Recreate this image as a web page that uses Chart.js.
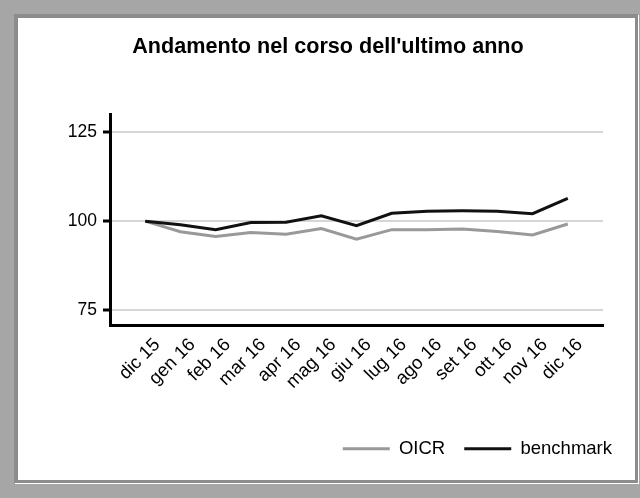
<!DOCTYPE html>
<html lang="it">
<head>
<meta charset="UTF-8">
<title>Andamento</title>
<script src="https://cdn.jsdelivr.net/npm/chart.js"></script>
<style>
  body { margin: 0; background: #a6a6a6; width: 640px; height: 498px; overflow: hidden; position: relative; }
  .cornice {
    position: absolute; left: 14px; top: 14px; width: 617px; height: 462px;
    background: #fff;
    border-left: 4px solid #8c8c8c; border-top: 4px solid #8c8c8c;
    border-right: 3px solid #8c8c8c; border-bottom: 3px solid #8c8c8c;
    box-shadow: 1px 1px 0 #fff;
  }
  #grafico { position: absolute; left: 0; top: 0; }
</style>
</head>
<body>
<div class="cornice"></div>
<canvas id="grafico" width="640" height="498"></canvas>

<script>
  // dati
  const mesi = ['dic 15', 'gen 16', 'feb 16', 'mar 16', 'apr 16', 'mag 16', 'giu 16',
                'lug 16', 'ago 16', 'set 16', 'ott 16', 'nov 16', 'dic 16'];
  const oicr = [100, 97.0, 95.7, 96.8, 96.3, 97.9, 94.9, 97.6, 97.6, 97.8, 97.1, 96.1, 99.2];
  const benchmark = [100, 99.0, 97.6, 99.6, 99.7, 101.5, 98.7, 102.2, 102.8, 102.9, 102.8, 102.1, 106.4];
  const tickY = [75, 100, 125];

  const font = 'Liberation Sans, Arial, sans-serif';

  const punti = (serie) => serie.map((v, i) => ({ x: i, y: v }));

  const dati = {
    datasets: [{
      label: 'OICR',
      data: punti(oicr),
      borderColor: '#999999',
      backgroundColor: '#999999',
      borderWidth: 3,
      pointRadius: 0,
      tension: 0,
      order: 1
    }, {
      label: 'benchmark',
      data: punti(benchmark),
      borderColor: '#111111',
      backgroundColor: '#111111',
      borderWidth: 3,
      pointRadius: 0,
      tension: 0,
      order: 0
    }]
  };

  const config = {
    type: 'line',
    data: dati,
    options: {
      responsive: false,
      animation: false,
      layout: { padding: { top: 0, left: 25, right: 9, bottom: 30 } },
      plugins: {
        title: {
          display: true,
          text: "Andamento nel corso dell'ultimo anno",
          color: '#000',
          font: { family: font, size: 21.6, weight: 'bold' },
          padding: { top: 34, bottom: 54.5 }
        },
        legend: {
          position: 'bottom',
          align: 'end',
          labels: {
            color: '#000',
            font: { family: font, size: 18.5 },
            usePointStyle: true,
            pointStyle: 'line',
            pointStyleWidth: 47,
            boxWidth: 47,
            padding: 19,
            sort: (a, b) => a.datasetIndex - b.datasetIndex
          }
        },
        tooltip: { enabled: false }
      },
      scales: {
        x: {
          type: 'linear',
          min: -1,
          max: 13,
          afterBuildTicks: (s) => { s.ticks = mesi.map((_, i) => ({ value: i })); },
          afterFit: (s) => { s.height = 95.5; },
          grid: { drawOnChartArea: false, drawTicks: false },
          border: { color: '#000', width: 3 },
          ticks: {
            autoSkip: false,
            minRotation: 45,
            maxRotation: 45,
            padding: 9,
            labelOffset: 12,
            color: '#000',
            font: { family: font, size: 18.5 },
            callback: (v) => mesi[v]
          }
        },
        y: {
          min: 70.8,
          max: 130,
          afterBuildTicks: (s) => { s.ticks = tickY.map(v => ({ value: v })); },
          afterFit: (s) => { s.width = 85; },
          grid: { color: '#d6d6d6', lineWidth: 2, tickColor: '#000', tickWidth: 3, tickLength: 7 },
          border: { color: '#000', width: 3 },
          ticks: {
            padding: 6,
            color: '#000',
            font: { family: font, size: 17.5 }
          }
        },
        destra: {
          position: 'right',
          display: true,
          afterFit: (s) => { s.width = 28; },
          grid: { display: false },
          border: { display: false },
          ticks: { display: false }
        }
      }
    }
  };

  new Chart(document.getElementById('grafico'), config);
</script>
</body>
</html>
